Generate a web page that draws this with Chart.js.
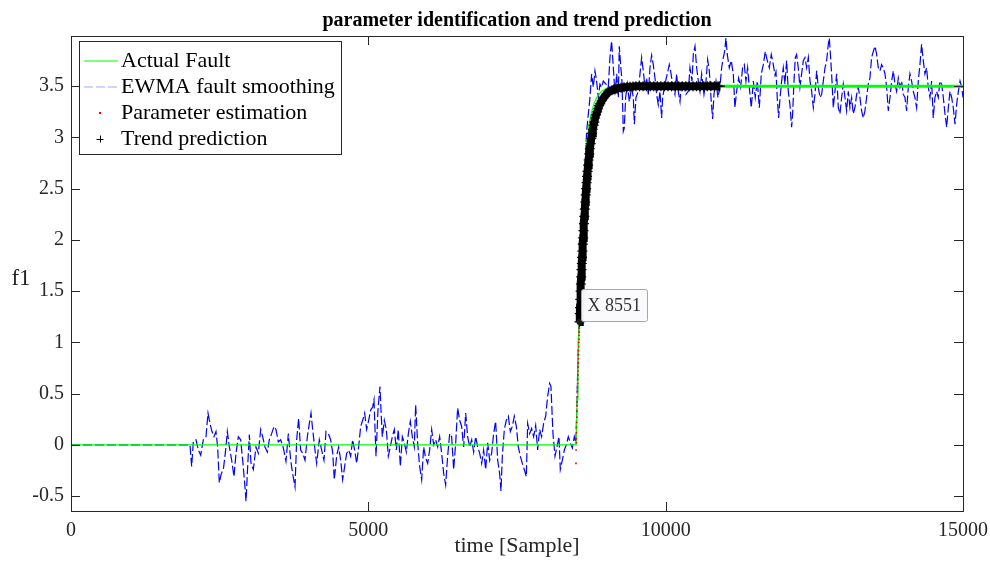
<!DOCTYPE html>
<html>
<head>
<meta charset="utf-8">
<title>parameter identification and trend prediction</title>
<script src="https://cdn.jsdelivr.net/npm/chart.js@4.4.1/dist/chart.umd.min.js"></script>
<style>
  html, body { margin: 0; padding: 0; background: #fff; }
  #wrap { width: 990px; height: 568px; }
</style>
</head>
<body>
<div id="wrap"><canvas id="chart" width="990" height="568"></canvas></div>
<script>
const xTicks = [0, 5000, 10000, 15000];
const yTicks = [-0.5, 0, 0.5, 1, 1.5, 2, 2.5, 3, 3.5];
const xRange = [0, 15000];
const yRange = [-0.645, 3.99];

// actual fault: step-like rise from ~8500 to 3.5
const faultPoints = [
  [0, 0], [8495, 0], [8510, 0.45], [8525, 0.82], [8540, 1.12], [8555, 1.40],
  [8575, 1.80], [8595, 2.12], [8620, 2.45], [8645, 2.73], [8675, 2.95],
  [8710, 3.12], [8750, 3.24], [8800, 3.34], [8850, 3.40], [8920, 3.45],
  [9000, 3.48], [9100, 3.49], [9250, 3.5], [15000, 3.5]
];

// EWMA smoothed fault signal
const ewmaPoints = [
  [0, 0], [2001, 0], [2029, -0.21], [2057, 0.03], [2102, 0.05], [2141, -0.05],
  [2181, -0.10], [2225, 0.05], [2270, 0.08], [2304, 0.31], [2337, 0.21],
  [2371, 0.13], [2405, 0.08], [2438, 0.13], [2466, -0.02], [2494, -0.37],
  [2528, -0.28], [2562, -0.24], [2595, -0.08], [2629, 0.13], [2663, -0.02],
  [2702, -0.15], [2741, -0.31], [2775, -0.08], [2814, 0.08], [2853, 0.05],
  [2887, -0.15], [2926, -0.41], [2943, -0.55], [2971, -0.21], [2999, 0.10],
  [3027, -0.18], [3066, -0.24], [3111, -0.02], [3150, -0.08], [3190, 0.15],
  [3223, 0.08], [3262, -0.02], [3302, -0.07], [3335, 0.05], [3374, 0.11],
  [3414, 0.18], [3447, 0.15], [3486, 0.03], [3526, 0.05], [3571, -0.03],
  [3615, -0.16], [3655, 0.11], [3694, -0.15], [3727, -0.28], [3767, -0.41],
  [3795, 0.05], [3828, 0.26], [3862, -0.05], [3896, -0.08], [3935, -0.15],
  [3974, 0.08], [4008, 0.21], [4036, 0.31], [4064, 0.15], [4103, -0.05],
  [4131, -0.18], [4176, 0.05], [4215, -0.05], [4254, -0.15], [4288, 0.13],
  [4327, 0.11], [4366, 0.05], [4400, -0.07], [4428, -0.34], [4467, -0.11],
  [4501, -0.02], [4535, -0.15], [4568, -0.34], [4602, -0.21], [4636, -0.08],
  [4669, -0.05], [4703, -0.11], [4736, 0.05], [4770, -0.05], [4804, -0.18],
  [4837, -0.02], [4871, 0.18], [4905, 0.24], [4938, 0.31], [4972, 0.15],
  [5006, 0.24], [5039, 0.34], [5073, 0.37], [5095, 0.44], [5129, -0.11],
  [5163, 0.35], [5196, 0.57], [5213, 0.34], [5235, 0.08], [5269, 0.24],
  [5303, 0.15], [5336, -0.11], [5370, -0.02], [5403, 0.08], [5437, 0.15],
  [5471, -0.05], [5504, 0.15], [5538, -0.21], [5572, 0.08], [5605, 0.02],
  [5639, -0.07], [5673, 0.11], [5706, 0.23], [5740, 0.08], [5773, -0.02],
  [5796, 0.39], [5829, 0.02], [5863, -0.21], [5897, -0.34], [5930, -0.02],
  [5964, -0.13], [5998, -0.18], [6031, -0.05], [6065, 0.15], [6099, 0],
  [6132, 0.05], [6166, -0.02], [6199, 0.08], [6233, -0.08], [6267, -0.28],
  [6300, -0.39], [6334, -0.11], [6368, 0.11], [6401, 0.08], [6435, -0.24],
  [6469, 0.02], [6502, 0.36], [6536, 0.24], [6569, 0.18], [6603, -0.02],
  [6637, 0.31], [6670, 0.08], [6704, -0.02], [6738, 0.05], [6771, -0.07],
  [6805, 0.08], [6838, -0.02], [6872, -0.08], [6906, -0.18], [6939, -0.05],
  [6973, -0.24], [7007, 0.02], [7040, -0.15], [7074, -0.08], [7107, 0.11],
  [7141, 0.23], [7175, -0.15], [7208, -0.28], [7231, -0.45], [7253, -0.11],
  [7287, 0.15], [7320, 0.24], [7354, 0.28], [7388, 0.13], [7421, 0.18],
  [7455, 0.28], [7489, 0.18], [7522, -0.02], [7556, -0.11], [7589, -0.18],
  [7623, -0.24], [7657, -0.31], [7679, 0.21], [7713, 0.11], [7746, 0.16],
  [7780, 0.08], [7814, 0.19], [7847, -0.05], [7881, 0.15], [7914, 0.08],
  [7948, 0.21], [7982, 0.28], [8015, 0.47], [8049, 0.60], [8071, 0.57],
  [8105, 0.11], [8139, -0.11], [8172, -0.02], [8206, 0.08], [8228, -0.24],
  [8262, -0.15], [8296, -0.05], [8329, 0], [8363, 0.08], [8397, 0.02],
  [8430, -0.03], [8464, 0.08], [8490, 0.02], [8510, 0.45], [8530, 0.95],
  [8555, 1.45], [8585, 1.95], [8615, 2.40], [8645, 2.75], [8671, 3.06],
  [8727, 3.39], [8755, 3.62], [8783, 3.49], [8811, 3.65], [8839, 3.55],
  [8867, 3.39], [8895, 3.52], [8923, 3.49], [8951, 3.55], [8996, 3.52],
  [9035, 3.49], [9063, 3.78], [9091, 3.94], [9120, 3.68], [9148, 3.42],
  [9176, 3.62], [9204, 3.39], [9220, 3.89], [9243, 3.71], [9265, 3.55],
  [9288, 3.06], [9304, 3.09], [9327, 3.39], [9355, 3.52], [9389, 3.35],
  [9428, 3.49], [9456, 3.39], [9473, 3.13], [9501, 3.39], [9540, 3.45],
  [9568, 3.62], [9596, 3.78], [9624, 3.65], [9652, 3.49], [9680, 3.58],
  [9708, 3.42], [9736, 3.68], [9764, 3.80], [9792, 3.71], [9820, 3.58],
  [9848, 3.42], [9876, 3.32], [9904, 3.45], [9932, 3.19], [9949, 3.39],
  [9988, 3.52], [10027, 3.62], [10061, 3.71], [10083, 3.65], [10117, 3.52],
  [10156, 3.42], [10184, 3.62], [10212, 3.45], [10241, 3.35], [10269, 3.55],
  [10297, 3.52], [10341, 3.42], [10381, 3.45], [10409, 3.68], [10442, 3.55],
  [10465, 3.81], [10493, 3.89], [10521, 3.68], [10549, 3.55], [10577, 3.45],
  [10605, 3.62], [10644, 3.42], [10678, 3.55], [10706, 3.76], [10734, 3.65],
  [10762, 3.39], [10790, 3.18], [10812, 3.42], [10846, 3.55], [10879, 3.39],
  [10913, 3.49], [10941, 3.68], [10969, 3.78], [10992, 3.84], [11014, 3.97],
  [11036, 3.81], [11070, 3.68], [11103, 3.75], [11137, 3.62], [11165, 3.29],
  [11193, 3.45], [11227, 3.58], [11261, 3.49], [11294, 3.68], [11322, 3.71],
  [11350, 3.55], [11378, 3.68], [11406, 3.49], [11440, 3.29], [11474, 3.55],
  [11507, 3.39], [11541, 3.55], [11575, 3.29], [11608, 3.62], [11642, 3.71],
  [11675, 3.84], [11709, 3.75], [11743, 3.68], [11776, 3.81], [11810, 3.71],
  [11838, 3.61], [11855, 3.64], [11877, 3.38], [11900, 3.19], [11922, 3.38],
  [11950, 3.55], [11978, 3.68], [12006, 3.52], [12034, 3.75], [12062, 3.45],
  [12090, 3.32], [12118, 3.10], [12135, 3.23], [12158, 3.55], [12180, 3.78],
  [12202, 3.81], [12230, 3.68], [12258, 3.49], [12286, 3.62], [12315, 3.75],
  [12343, 3.78], [12371, 3.68], [12399, 3.78], [12427, 3.55], [12455, 3.45],
  [12483, 3.29], [12511, 3.42], [12539, 3.65], [12567, 3.49], [12595, 3.39],
  [12623, 3.42], [12651, 3.55], [12679, 3.68], [12707, 3.75], [12735, 3.91],
  [12752, 3.97], [12774, 3.78], [12797, 3.55], [12819, 3.29], [12847, 3.45],
  [12875, 3.62], [12903, 3.29], [12931, 3.23], [12959, 3.39], [12987, 3.52],
  [13015, 3.39], [13043, 3.26], [13071, 3.45], [13099, 3.29], [13127, 3.39],
  [13155, 3.23], [13183, 3.29], [13211, 3.42], [13239, 3.49], [13267, 3.39],
  [13295, 3.26], [13323, 3.19], [13351, 3.26], [13379, 3.39], [13407, 3.52],
  [13435, 3.58], [13463, 3.78], [13492, 3.84], [13520, 3.89], [13548, 3.81],
  [13576, 3.68], [13604, 3.65], [13632, 3.71], [13660, 3.68], [13688, 3.62],
  [13716, 3.49], [13744, 3.26], [13772, 3.39], [13800, 3.55], [13828, 3.65],
  [13856, 3.52], [13884, 3.45], [13912, 3.58], [13940, 3.49], [13968, 3.55],
  [13996, 3.42], [14024, 3.39], [14052, 3.26], [14080, 3.49], [14108, 3.62],
  [14136, 3.55], [14164, 3.45], [14192, 3.39], [14220, 3.29], [14248, 3.55],
  [14276, 3.71], [14304, 3.91], [14332, 3.75], [14360, 3.62], [14388, 3.68],
  [14416, 3.49], [14444, 3.39], [14472, 3.55], [14500, 3.19], [14528, 3.39],
  [14556, 3.45], [14584, 3.39], [14612, 3.55], [14641, 3.52], [14669, 3.39],
  [14697, 3.23], [14725, 3.10], [14753, 3.29], [14781, 3.45], [14809, 3.39],
  [14837, 3.29], [14865, 3.13], [14893, 3.32], [14922, 3.45], [14950, 3.55],
  [14978, 3.49], [15000, 3.39]
];

// parameter estimation samples during the jump
const estimationPoints = [
  [8492, -0.18], [8494, -0.05], [8496, 0.02], [8498, 0.06], [8500, 0.12],
  [8502, 0.17], [8504, 0.22], [8506, 0.27], [8508, 0.33], [8510, 0.38],
  [8512, 0.42], [8514, 0.47], [8516, 0.52], [8518, 0.56], [8520, 0.60],
  [8522, 0.64], [8524, 0.68], [8526, 0.72], [8528, 0.76], [8530, 0.80],
  [8532, 0.84], [8534, 0.88], [8536, 0.92], [8538, 0.96], [8540, 1.00],
  [8542, 1.03], [8544, 1.07], [8546, 1.10], [8548, 1.14], [8550, 1.17],
  [8551, 1.19]
];

// trend prediction from sample 8551 onwards
const trendPoints = [
  [8551, 1.20], [8556, 1.28], [8560, 1.34], [8565, 1.42], [8570, 1.50],
  [8575, 1.57], [8580, 1.64], [8585, 1.71], [8590, 1.77], [8595, 1.83],
  [8600, 1.89], [8606, 1.96], [8612, 2.02], [8618, 2.09], [8625, 2.16],
  [8632, 2.23], [8640, 2.30], [8647, 2.37], [8655, 2.44], [8662, 2.50],
  [8670, 2.56], [8678, 2.62], [8686, 2.67], [8695, 2.73], [8705, 2.78],
  [8715, 2.84], [8725, 2.89], [8737, 2.94], [8750, 2.99], [8762, 3.04],
  [8775, 3.08], [8788, 3.12], [8800, 3.15], [8815, 3.19], [8830, 3.22],
  [8848, 3.25], [8865, 3.28], [8882, 3.31], [8900, 3.33], [8925, 3.36],
  [8950, 3.38], [8975, 3.40], [9000, 3.42], [9030, 3.44], [9060, 3.45],
  [9095, 3.46], [9130, 3.47], [9165, 3.475], [9200, 3.48], [9250, 3.485],
  [9300, 3.49], [9350, 3.492], [9400, 3.495], [9450, 3.497], [9500, 3.5],
  [9560, 3.5], [9620, 3.5], [9680, 3.5], [9740, 3.5], [9800, 3.5],
  [9860, 3.5], [9920, 3.5], [9980, 3.5], [10040, 3.5], [10100, 3.5],
  [10160, 3.5], [10220, 3.5], [10280, 3.5], [10340, 3.5], [10400, 3.5],
  [10460, 3.5], [10520, 3.5], [10580, 3.5], [10640, 3.5], [10700, 3.5],
  [10760, 3.5], [10820, 3.5], [10880, 3.5], [10910, 3.5]
];

const dataTip = { x: 8551, y: 1.2, label: 'X 8551' };

const SERIF = '"Liberation Serif", "Times New Roman", serif';
const AXIS_COLOR = '#262626';

const toXY = (pts) => pts.map(([x, y]) => ({ x, y }));

// box, inward ticks, title, axis labels, legend and data tip
const matlabDecor = {
  id: 'matlabDecor',
  afterDatasetsDraw(chart) {
    const { ctx, chartArea: a, scales } = chart;
    const xs = scales.x;
    const ys = scales.y;
    ctx.save();

    // axes box
    ctx.strokeStyle = AXIS_COLOR;
    ctx.lineWidth = 1;
    ctx.setLineDash([]);
    ctx.strokeRect(a.left + 0.5, a.top + 0.5, a.right - a.left, a.bottom - a.top);

    // ticks pointing inward on all four sides
    const tickLen = 9;
    ctx.beginPath();
    xTicks.forEach((v) => {
      const px = Math.round(xs.getPixelForValue(v)) + 0.5;
      ctx.moveTo(px, a.bottom);
      ctx.lineTo(px, a.bottom - tickLen);
      ctx.moveTo(px, a.top);
      ctx.lineTo(px, a.top + tickLen);
    });
    yTicks.forEach((v) => {
      const py = Math.round(ys.getPixelForValue(v)) + 0.5;
      ctx.moveTo(a.left, py);
      ctx.lineTo(a.left + tickLen, py);
      ctx.moveTo(a.right, py);
      ctx.lineTo(a.right - tickLen, py);
    });
    ctx.stroke();

    const midX = (a.left + a.right) / 2;

    // title
    ctx.fillStyle = '#000';
    ctx.font = `bold 20px ${SERIF}`;
    ctx.textAlign = 'center';
    ctx.textBaseline = 'middle';
    ctx.fillText('parameter identification and trend prediction', midX, 21);

    // axis labels
    ctx.fillStyle = AXIS_COLOR;
    ctx.font = `22px ${SERIF}`;
    ctx.fillText('time [Sample]', midX, 546);
    ctx.font = `23px ${SERIF}`;
    ctx.fillText('f1', 21, 279);

    // legend
    const lg = { left: 79.5, top: 41.5, width: 262, height: 113 };
    ctx.fillStyle = '#fff';
    ctx.fillRect(lg.left, lg.top, lg.width, lg.height);
    ctx.strokeStyle = AXIS_COLOR;
    ctx.lineWidth = 1;
    ctx.strokeRect(lg.left, lg.top, lg.width, lg.height);

    const rows = [61, 87, 113, 139];
    const sx0 = 84;
    const sx1 = 118;
    const sxm = 100;

    ctx.strokeStyle = '#00ff00';
    ctx.lineWidth = 1.2;
    ctx.beginPath();
    ctx.moveTo(sx0, rows[0]);
    ctx.lineTo(sx1, rows[0]);
    ctx.stroke();

    ctx.strokeStyle = 'rgba(40, 60, 255, 0.45)';
    ctx.lineWidth = 1;
    ctx.setLineDash([9, 3]);
    ctx.beginPath();
    ctx.moveTo(sx0, rows[1]);
    ctx.lineTo(sx1, rows[1]);
    ctx.stroke();
    ctx.setLineDash([]);

    ctx.fillStyle = '#ff0000';
    ctx.fillRect(sxm - 1, rows[2] - 1, 2, 2);

    ctx.strokeStyle = '#000';
    ctx.lineWidth = 1;
    ctx.beginPath();
    ctx.moveTo(sxm - 3.5, rows[3] + 0.5);
    ctx.lineTo(sxm + 3.5, rows[3] + 0.5);
    ctx.moveTo(sxm + 0.5, rows[3] - 3.5);
    ctx.lineTo(sxm + 0.5, rows[3] + 3.5);
    ctx.stroke();

    ctx.fillStyle = '#000';
    ctx.font = `22px ${SERIF}`;
    ctx.textAlign = 'left';
    ctx.textBaseline = 'middle';
    ['Actual Fault', 'EWMA fault smoothing', 'Parameter estimation', 'Trend prediction']
      .forEach((t, i) => ctx.fillText(t, 121, rows[i]));

    // data tip
    const tx = xs.getPixelForValue(dataTip.x);
    const ty = ys.getPixelForValue(dataTip.y);
    ctx.fillStyle = '#1a1a1a';
    ctx.beginPath();
    ctx.arc(tx, ty, 3, 0, Math.PI * 2);
    ctx.fill();
    const box = { left: Math.round(tx) + 2.5, top: Math.round(ty) - 32.5, width: 66, height: 32 };
    ctx.fillStyle = 'rgba(250, 250, 253, 0.97)';
    ctx.strokeStyle = '#a8a8a8';
    ctx.lineWidth = 1;
    ctx.beginPath();
    ctx.roundRect(box.left, box.top, box.width, box.height, 2);
    ctx.fill();
    ctx.stroke();
    ctx.fillStyle = '#333';
    ctx.font = `18px ${SERIF}`;
    ctx.textAlign = 'left';
    ctx.fillText(dataTip.label, box.left + 6, box.top + box.height / 2 + 1);

    ctx.restore();
  }
};

new Chart(document.getElementById('chart'), {
  type: 'scatter',
  data: {
    datasets: [
      {
        label: 'Trend prediction',
        data: toXY(trendPoints),
        showLine: true,
        borderColor: '#000',
        borderWidth: 8,
        pointStyle: 'cross',
        pointRadius: 5,
        pointBorderWidth: 1.2,
        pointBorderColor: '#000',
        pointBackgroundColor: '#000'
      },
      {
        label: 'Parameter estimation',
        data: toXY(estimationPoints),
        showLine: false,
        pointStyle: 'rect',
        pointRadius: 1.2,
        pointBorderWidth: 0,
        pointBackgroundColor: '#ff0000'
      },
      {
        label: 'Actual Fault',
        data: toXY(faultPoints),
        showLine: true,
        pointRadius: 0,
        borderColor: '#00ff00',
        borderWidth: 1.2,
        segment: {
          borderWidth: (c) => (c.p0.parsed.y >= 3.49 ? 3 : 1.2)
        }
      },
      {
        label: 'EWMA fault smoothing',
        data: toXY(ewmaPoints),
        showLine: true,
        pointRadius: 0,
        borderColor: '#0000ff',
        borderWidth: 1.2,
        borderDash: [9, 3]
      }
    ]
  },
  options: {
    responsive: false,
    animation: false,
    devicePixelRatio: 1,
    layout: { padding: { top: 36, right: 27, left: 0, bottom: 0 } },
    plugins: {
      legend: { display: false },
      tooltip: { enabled: false },
      title: { display: false }
    },
    scales: {
      x: {
        type: 'linear',
        min: xRange[0],
        max: xRange[1],
        afterBuildTicks: (s) => { s.ticks = xTicks.map((v) => ({ value: v })); },
        afterFit: (s) => { s.height = 57; s.paddingLeft = 0; s.paddingRight = 0; },
        grid: { display: false, drawTicks: false },
        border: { display: false },
        ticks: {
          padding: 8,
          color: AXIS_COLOR,
          font: { family: SERIF, size: 20 },
          maxRotation: 0,
          callback: (v) => String(v)
        }
      },
      y: {
        type: 'linear',
        min: yRange[0],
        max: yRange[1],
        afterBuildTicks: (s) => { s.ticks = yTicks.map((v) => ({ value: v })); },
        afterFit: (s) => { s.width = 71; s.paddingTop = 0; s.paddingBottom = 0; },
        grid: { display: false, drawTicks: false },
        border: { display: false },
        ticks: {
          padding: 7,
          color: AXIS_COLOR,
          font: { family: SERIF, size: 20 },
          callback: (v) => String(v)
        }
      }
    }
  },
  plugins: [matlabDecor]
});
</script>
</body>
</html>
